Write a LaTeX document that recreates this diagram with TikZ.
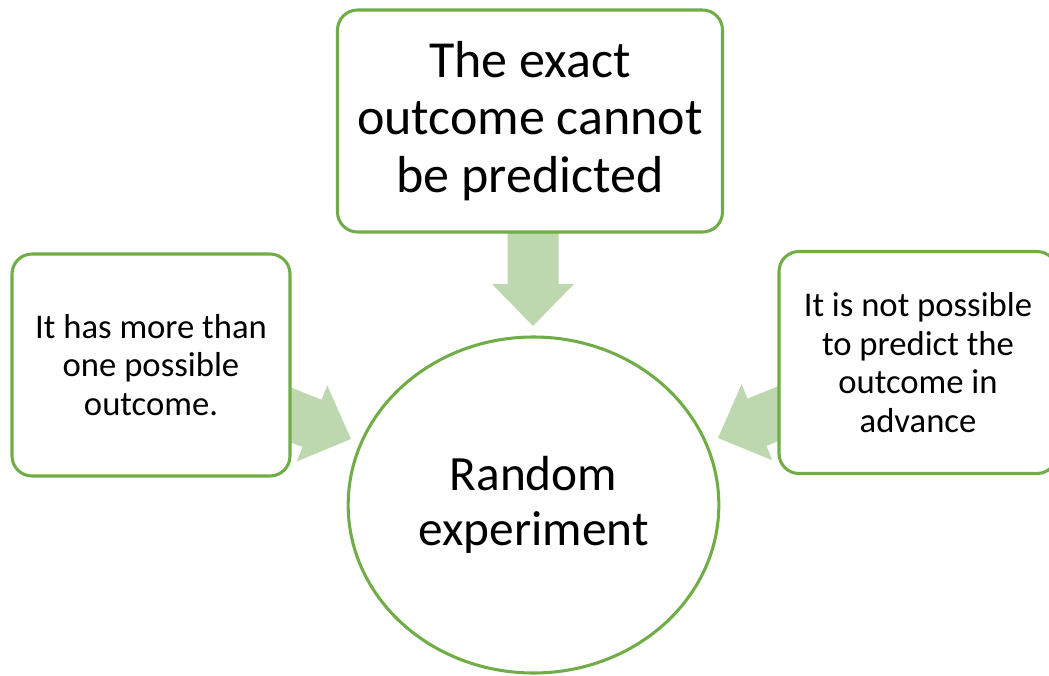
\documentclass[tikz,border=0pt]{standalone}
\usepackage{fontspec}
\setmainfont{Carlito}
\usetikzlibrary{shapes.geometric}
\definecolor{edgegreen}{RGB}{112,173,71}
\definecolor{arrowgreen}{RGB}{189,215,174}
\tikzset{
  box/.style={draw=edgegreen, line width=2.3pt, fill=white, rounded corners=15pt,
    align=center, inner sep=0pt, minimum width=208.5pt, minimum height=166.5pt,
    font=\fontsize{26}{29}\selectfont},
  bigbox/.style={box, minimum width=288.75pt, font=\fontsize{39}{43}\selectfont},
  hub/.style={draw=edgegreen, line width=2.3pt, fill=white, ellipse, align=center,
    inner sep=0pt, minimum width=278pt, minimum height=252pt,
    font=\fontsize{37}{41}\selectfont},
  arrowfill/.style={fill=arrowgreen, draw=none}
}
% block arrow pointing along local +x, tip at local origin
\newcommand{\blockarrow}[2]{%
  \begin{scope}[shift={(#1)}, rotate=#2]
    \fill[arrowfill] (0,0) -- (-42,41) -- (-42,25.5) -- (-115,25.5)
      -- (-115,-25.5) -- (-42,-25.5) -- (-42,-41) -- cycle;
  \end{scope}}
\begin{document}
\begin{tikzpicture}[x=0.75pt, y=-0.75pt]
  \useasboundingbox (0,0) rectangle (1049,675);
  \clip (0,0) rectangle (1049,675);

  % arrow tips
  \coordinate (tipT) at (533,326);
  \coordinate (tipL) at (351,439);
  \coordinate (tipR) at (718,438);

  \blockarrow{tipT}{-90}
  \blockarrow{tipL}{-21.8}
  \blockarrow{tipR}{-158}

  \node[bigbox] (top) at (530,121) {The exact\\outcome cannot\\be predicted};
  \node[box] (left) at (151,365) {It has more than\\one possible\\outcome.};
  \node[box] (right) at (918,362.5) {It is not possible\\to predict the\\outcome in\\advance};
  \node[hub] (hub) at (533.5,505) {Random\\experiment};
\end{tikzpicture}
\end{document}
